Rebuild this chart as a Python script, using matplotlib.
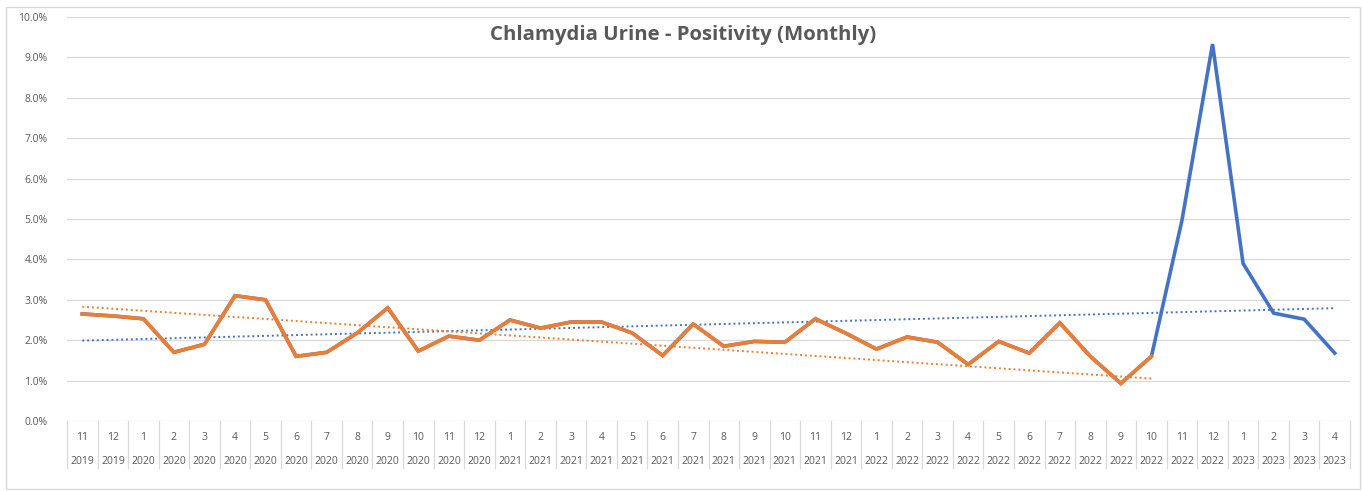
import numpy as np
import matplotlib.pyplot as plt
import matplotlib.transforms as mtransforms
from matplotlib.ticker import FuncFormatter
from matplotlib.patches import Rectangle

months = [11, 12, 1, 2, 3, 4, 5, 6, 7, 8, 9, 10, 11, 12,
          1, 2, 3, 4, 5, 6, 7, 8, 9, 10, 11, 12,
          1, 2, 3, 4, 5, 6, 7, 8, 9, 10, 11, 12,
          1, 2, 3, 4]
years = [2019, 2019] + [2020] * 12 + [2021] * 12 + [2022] * 12 + [2023] * 4

# positivity (%) for every month, whole period
positivity_all = [2.65, 2.60, 2.53, 1.70, 1.90, 3.10, 3.00, 1.60, 1.70, 2.18,
                  2.80, 1.73, 2.10, 2.00, 2.50, 2.30, 2.45, 2.45, 2.18, 1.62,
                  2.40, 1.85, 1.97, 1.95, 2.53, 2.17, 1.78, 2.08, 1.95, 1.40,
                  1.97, 1.68, 2.43, 1.60, 0.93, 1.60, 4.97, 9.33, 3.90, 2.67,
                  2.52, 1.68]
# earlier period (through 10/2022) shown in orange
n_early = 36
# orange trendline as drawn in the source (start / end value, %)
early_trend = [2.83, 1.05]

blue = '#4472C4'
orange = '#ED7D31'
grey_text = '#595959'
grid_col = '#D9D9D9'

plt.rcParams['font.family'] = ['Open Sans', 'DejaVu Sans']

fig = plt.figure(figsize=(13.63, 4.91), dpi=100)
ax = fig.add_axes([67 / 1363, 70 / 491, (1350 - 67) / 1363, 404 / 491])

x = np.arange(len(positivity_all))
y = np.array(positivity_all) / 100
x_early = x[:n_early]
y_early = y[:n_early]

ax.plot(x, y, color=blue, lw=2.6, zorder=3, solid_joinstyle='miter')
ax.plot(x_early, y_early, color=orange, lw=2.6, zorder=4, solid_joinstyle='miter')

# linear trendlines
p_all = np.polyfit(x, y, 1)
ax.plot(x, np.polyval(p_all, x), color=blue, lw=1.4, ls=(0, (1, 1.5)), zorder=2)
ax.plot([x_early[0], x_early[-1]], np.array(early_trend) / 100, color=orange,
        lw=1.4, ls=(0, (1, 1.5)), zorder=2)

ax.set_xlim(-0.5, len(x) - 0.5)
ax.set_ylim(0, 0.10)
ax.set_yticks(np.arange(0, 0.1001, 0.01))
ax.yaxis.set_major_formatter(FuncFormatter(lambda v, _: f'{v * 100:.1f}%'))
ax.tick_params(axis='y', length=0, labelsize=7.5, labelcolor=grey_text, pad=14)
ax.set_xticks([])
ax.grid(axis='y', color=grid_col, lw=0.9)
ax.set_axisbelow(True)
for s in ax.spines.values():
    s.set_visible(False)

# category table under the axis
trans = mtransforms.blended_transform_factory(ax.transData, ax.transAxes)
tab_h = 47 / 404
for i in range(len(x) + 1):
    ax.plot([i - 0.5, i - 0.5], [0, -tab_h], transform=trans, color=grid_col,
            lw=0.9, clip_on=False)
for i, (m, yr) in enumerate(zip(months, years)):
    ax.text(i, -17 / 404, str(m), transform=trans, ha='center', va='center',
            fontsize=7.5, color=grey_text)
    ax.text(i, -40 / 404, str(yr), transform=trans, ha='center', va='center',
            fontsize=7.5, color=grey_text)

fig.text(683 / 1363, 1 - 35 / 491, 'Chlamydia Urine - Positivity (Monthly)',
         ha='center', va='center', fontsize=14.7, fontweight='bold', color=grey_text)

fig.patches.append(Rectangle((6 / 1363, 2 / 491), 1354 / 1363, 482 / 491,
                             transform=fig.transFigure, fill=False,
                             edgecolor=grid_col, lw=1))

fig.savefig('out.png', dpi=100, facecolor='white')
